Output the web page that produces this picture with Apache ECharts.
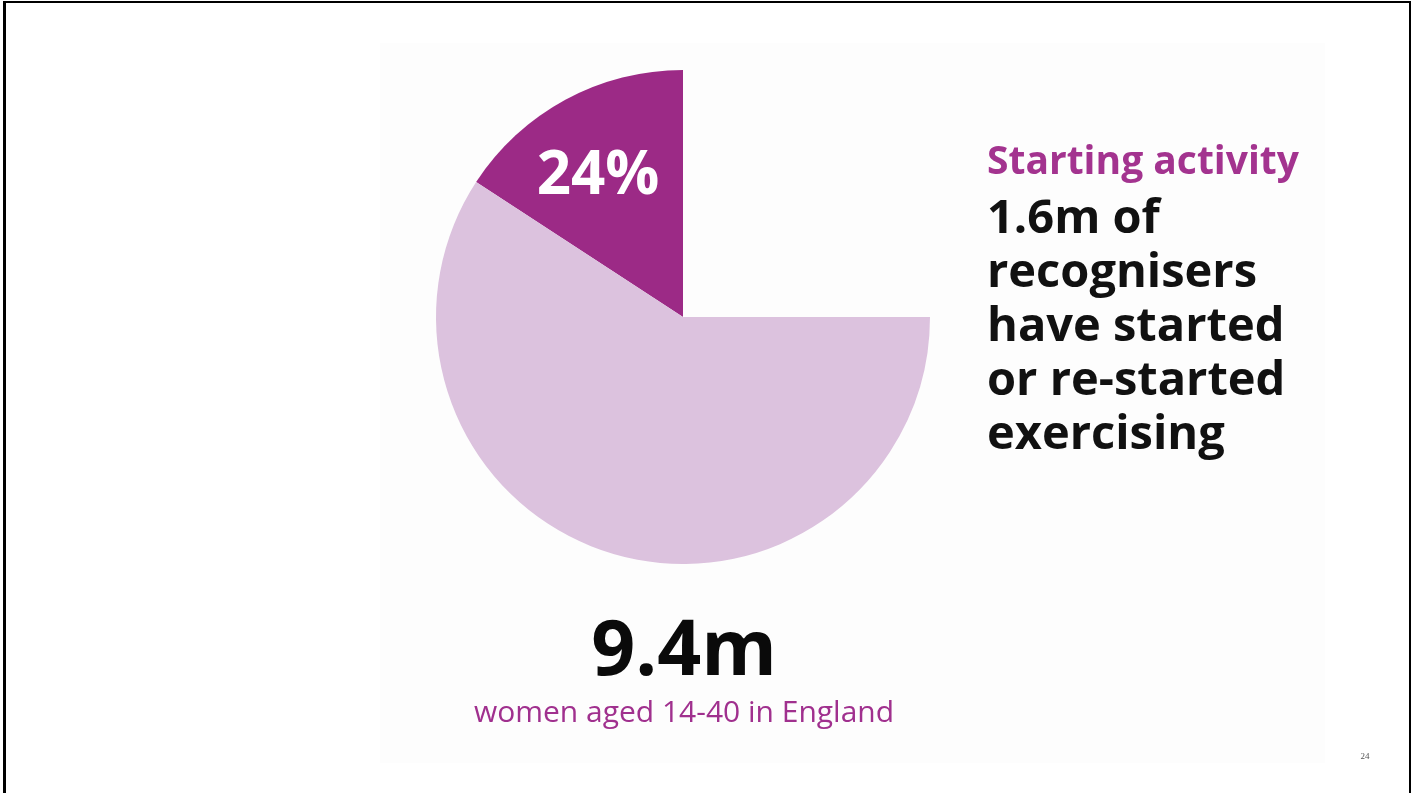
<!DOCTYPE html>
<html>
<head>
<meta charset="utf-8">
<script src="https://cdn.jsdelivr.net/npm/echarts@6/dist/echarts.min.js"></script>
<style>
html,body{margin:0;padding:0;background:#fff;}
#frame{position:absolute;left:3px;top:1px;width:1408px;height:792px;border-left:3px solid #000;border-top:2px solid #000;border-right:2px solid #000;box-sizing:border-box;}
#chart{position:absolute;left:0;top:0;width:1416px;height:793px;}
</style>
</head>
<body>
<div id="chart"></div>
<div id="frame"></div>
<script>
// Slices of the circle (share of a full 360° turn); the last one is the empty quadrant
const categories = ['Started or re-started exercising', 'Other recognisers', 'gap'];
const sliceValues = [15.8, 59.2, 25];
const sliceLabel = '24%';
const headline = 'Starting activity';
const bodyLines = ['1.6m of', 'recognisers', 'have started', 'or re-started', 'exercising'];
const totalLabel = '9.4m';
const totalCaption = 'women aged 14-40 in England';
const pageNumber = '24';

const colors = ['#9c2a86', '#dcc2de', 'rgba(0,0,0,0)'];
const FONT = '"Open Sans", "Noto Sans", sans-serif';

const chart = echarts.init(document.getElementById('chart'), null, {renderer: 'canvas'});
chart.setOption({
  backgroundColor: '#ffffff',
  animation: false,
  graphic: [
    {type: 'rect', z: -10, silent: true, shape: {x: 380, y: 43, width: 945, height: 720}, style: {fill: '#fdfdfd'}},
    {type: 'text', z: 100, style: {x: 598, y: 177, text: sliceLabel, fill: '#ffffff', font: 'bold 60px ' + FONT, textAlign: 'center', textVerticalAlign: 'middle'}},
    {type: 'text', z: 100, style: {x: 987, y: 163, text: headline, fill: '#a3338f', font: 'bold 39px ' + FONT, textAlign: 'left', textVerticalAlign: 'middle'}},
    {type: 'text', z: 100, style: {x: 987, y: 193, text: bodyLines.join('\n'), fill: '#111111', font: 'bold 47px ' + FONT, lineHeight: 54, textAlign: 'left', textVerticalAlign: 'top'}},
    {type: 'text', z: 100, style: {x: 684, y: 653, text: totalLabel, fill: '#0a0a0a', font: 'bold 77px ' + FONT, textAlign: 'center', textVerticalAlign: 'middle'}},
    {type: 'text', z: 100, style: {x: 684, y: 713, text: totalCaption, fill: '#a0308e', font: '30px ' + FONT, textAlign: 'center', textVerticalAlign: 'middle'}},
    {type: 'text', z: 100, style: {x: 1365, y: 757, text: pageNumber, fill: '#555555', font: '9px "Liberation Serif", serif', textAlign: 'center', textVerticalAlign: 'middle'}}
  ],
  series: [{
    type: 'pie',
    center: [683, 317],
    radius: [0, 247],
    startAngle: 90,
    clockwise: false,
    avoidLabelOverlap: false,
    silent: true,
    label: {show: false},
    labelLine: {show: false},
    emphasis: {disabled: true},
    itemStyle: {borderWidth: 0},
    data: categories.map((c, i) => ({name: c, value: sliceValues[i], itemStyle: {color: colors[i]}}))
  }]
});
</script>
</body>
</html>
